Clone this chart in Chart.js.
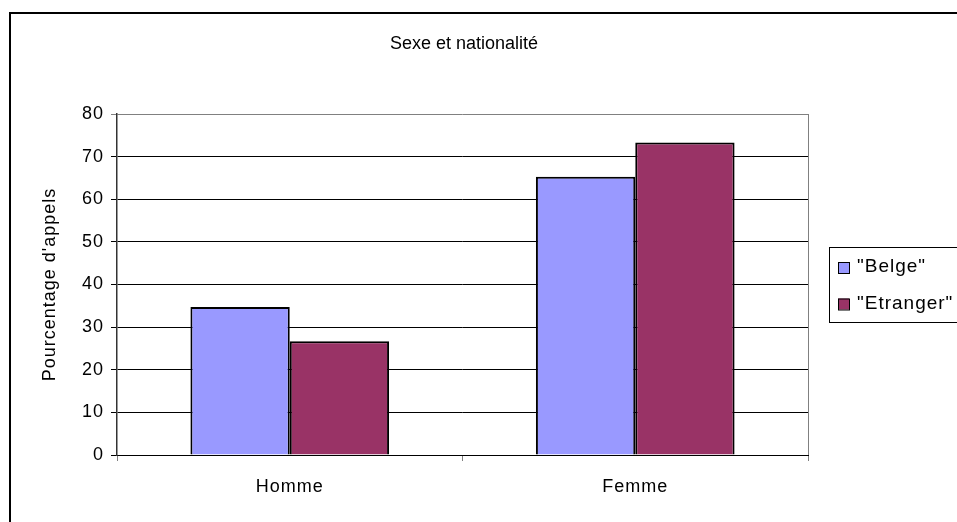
<!DOCTYPE html>
<html>
<head>
<meta charset="utf-8">
<script src="https://cdn.jsdelivr.net/npm/chart.js@4.4.1/dist/chart.umd.min.js"></script>
<style>
  html, body { margin: 0; padding: 0; background: #fff; }
  #wrap { width: 957px; height: 522px; position: relative; }
</style>
</head>
<body>
<div id="wrap"><canvas id="c" width="957" height="522"></canvas></div>
<script>
// Share of calls by sex, split by nationality
const categories = ['Homme', 'Femme'];
const belge = [34.7, 65.3];
const etranger = [26.7, 73.3];
const seriesNames = ['"Belge"', '"Etranger"'];
const yTicks = [0, 10, 20, 30, 40, 50, 60, 70, 80];
const chartTitle = 'Sexe et nationalité';
const yTitle = "Pourcentage d'appels";

const FONT = '"Liberation Sans", Arial, sans-serif';
const colors = ['#9999FF', '#993366'];

// Slightly wide lettering for axis labels
const spacing = {
  id: 'spacing',
  beforeUpdate(chart) { chart.ctx.letterSpacing = '1px'; },
  beforeDraw(chart) { chart.ctx.letterSpacing = '1px'; }
};

// Frame, plot-area edge, title and boxed legend
const decor = {
  id: 'decor',
  beforeDatasetsDraw(chart) {
    const { ctx, chartArea: a } = chart;
    ctx.save();
    ctx.strokeStyle = '#808080';
    ctx.lineWidth = 1;
    ctx.beginPath();
    ctx.moveTo(a.right + 0.5, a.top);
    ctx.lineTo(a.right + 0.5, a.bottom);
    ctx.stroke();
    ctx.restore();
  },
  afterDraw(chart) {
    const { ctx } = chart;
    ctx.save();
    // outer frame
    ctx.strokeStyle = '#000';
    ctx.lineWidth = 2;
    ctx.strokeRect(10, 13, 960, 530);
    // title
    ctx.letterSpacing = '0px';
    ctx.fillStyle = '#000';
    ctx.font = '18px ' + FONT;
    ctx.textAlign = 'center';
    ctx.textBaseline = 'middle';
    ctx.fillText(chartTitle, 464, 44);
    // legend
    ctx.letterSpacing = '1px';
    ctx.font = '19px ' + FONT;
    ctx.lineWidth = 1;
    ctx.strokeStyle = '#000';
    ctx.strokeRect(829.5, 247.5, 140, 75);
    ctx.textAlign = 'left';
    chart.data.datasets.forEach((ds, i) => {
      const y = 267 + i * 36.5;
      ctx.fillStyle = ds.backgroundColor;
      ctx.fillRect(838, y - 5, 11, 11);
      ctx.strokeRect(838.5, y - 4.5, 11, 11);
      ctx.fillStyle = '#000';
      ctx.fillText(ds.label, 857, y);
    });
    ctx.restore();
  }
};

new Chart(document.getElementById('c'), {
  type: 'bar',
  data: {
    labels: categories,
    datasets: [
      { label: seriesNames[0], data: belge, backgroundColor: colors[0], borderColor: '#000', borderWidth: 2 },
      { label: seriesNames[1], data: etranger, backgroundColor: colors[1], borderColor: '#000', borderWidth: 2 }
    ]
  },
  options: {
    responsive: false,
    animation: false,
    events: [],
    layout: { padding: { left: 0, top: 114, right: 957 - 808, bottom: 0 } },
    categoryPercentage: 0.575,
    barPercentage: 1.0,
    plugins: { legend: { display: false }, title: { display: false }, tooltip: { enabled: false } },
    scales: {
      x: {
        offset: true,
        afterFit(s) { s.height = 522 - 455; },
        grid: { drawOnChartArea: false, drawTicks: true, tickLength: 6, color: '#808080' },
        border: { display: true, color: '#000', width: 1 },
        ticks: { color: '#000', font: { family: FONT, size: 18 }, padding: 15, maxRotation: 0 }
      },
      y: {
        min: 0, max: 80,
        afterFit(s) { s.width = 117; },
        afterBuildTicks(s) { s.ticks = yTicks.map(v => ({ value: v })); },
        grid: {
          color: c => (c.tick && c.tick.value === 80 ? '#808080' : '#000'),
          drawTicks: true, tickLength: 6, lineWidth: 1
        },
        border: { display: true, color: '#333', width: 1.5 },
        ticks: { color: '#000', font: { family: FONT, size: 18 }, padding: 7 },
        title: { display: true, text: yTitle, color: '#000', font: { family: FONT, size: 18 }, padding: { top: 39, bottom: 0 } }
      }
    }
  },
  plugins: [spacing, decor]
});
</script>
</body>
</html>
